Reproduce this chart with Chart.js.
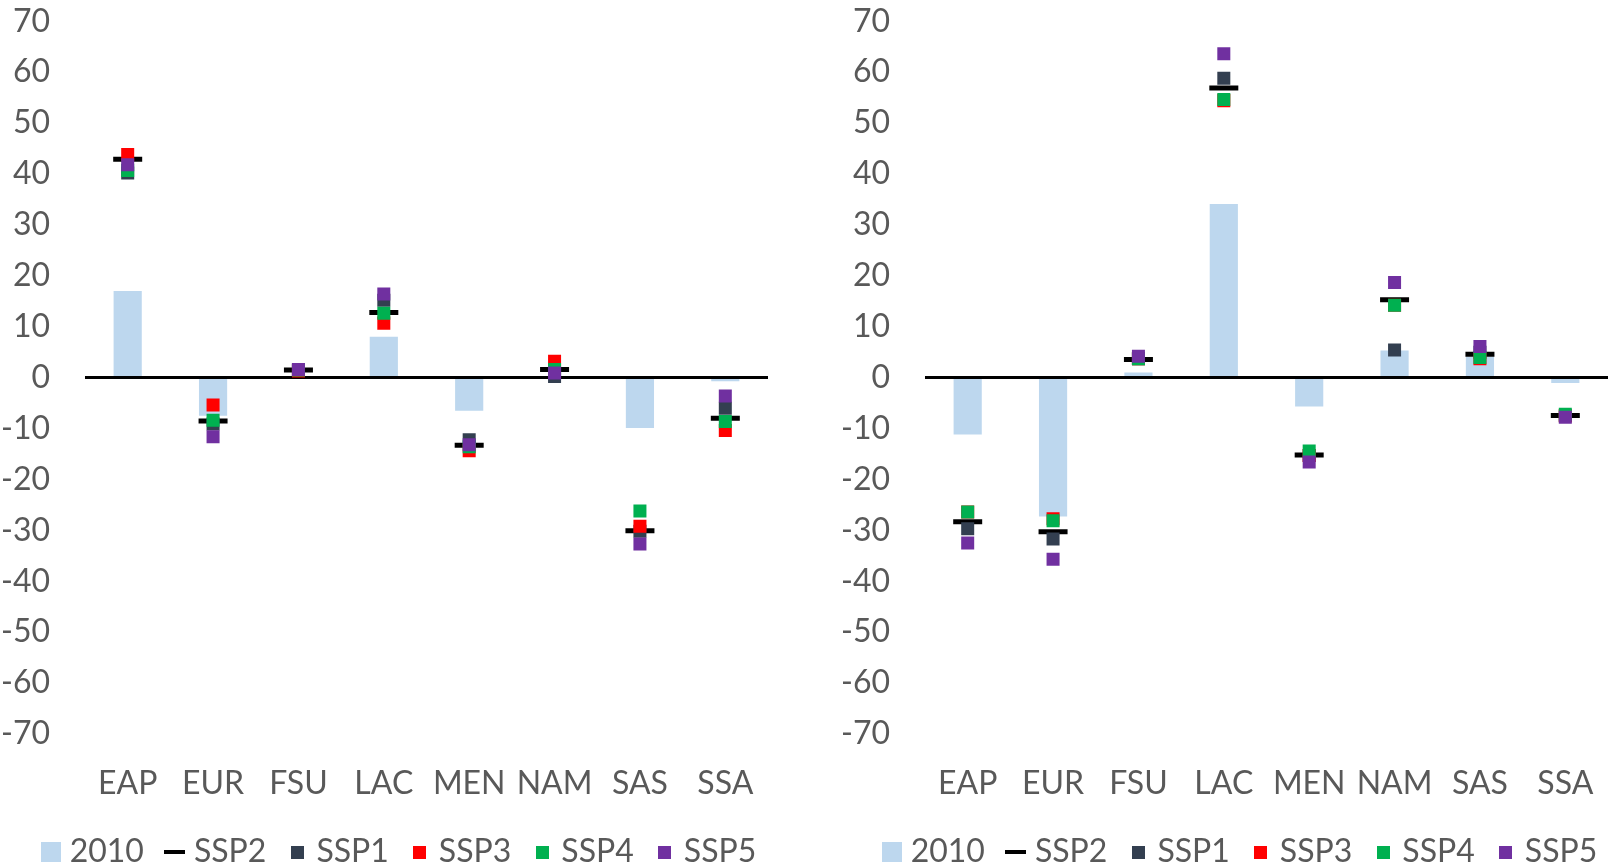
<!DOCTYPE html>
<html>
<head>
<meta charset="utf-8">
<script src="https://cdn.jsdelivr.net/npm/chart.js@4.4.1/dist/chart.umd.min.js"></script>
<style>
  html, body { margin: 0; padding: 0; background: #fff; overflow: hidden; }
  .box { position: absolute; top: -33px; width: 800px; height: 911px; }
  #left { left: 0; }
  #right { left: 838px; }
</style>
</head>
<body>
<div class="box" id="left"><canvas id="c1" width="800" height="911"></canvas></div>
<div class="box" id="right"><canvas id="c2" width="800" height="911"></canvas></div>
<script>
const regions = ["EAP", "EUR", "FSU", "LAC", "MEN", "NAM", "SAS", "SSA"];
const seriesNames = ["2010", "SSP2", "SSP1", "SSP3", "SSP4", "SSP5"];
const yTicks = { min: -70, max: 70, step: 10 };

// left panel
const left2010 = [17, -7.5, 0, 8, -6.5, 0, -9.9, -0.7];
const leftSSP2 = [42.9, -8.5, 1.5, 12.8, -13.3, 1.6, -30.1, -8.0];
const leftSSP1 = [40.2, -9.1, 1.5, 15.2, -12.2, 0.2, -30.2, -6.0];
const leftSSP3 = [43.8, -5.4, 1.3, 10.7, -14.35, 3.2, -29.2, -10.4];
const leftSSP4 = [40.7, -8.4, 1.5, 12.65, -13.6, 1.6, -26.2, -8.6];
const leftSSP5 = [41.8, -11.6, 1.6, 16.4, -13.2, 0.9, -32.7, -3.6];

// right panel
const right2010 = [-11.2, -27.3, 1.0, 34.1, -5.7, 5.3, 4.1, -1.05];
const rightSSP2 = [-28.3, -30.3, 3.55, 56.9, -15.2, 15.3, 4.6, -7.45];
const rightSSP1 = [-29.7, -31.7, 3.7, 58.8, -15.3, 5.4, 5.0, -7.5];
const rightSSP3 = [-26.4, -27.7, 3.7, 54.4, -15.3, 14.2, 3.7, -7.5];
const rightSSP4 = [-26.4, -28.1, 3.7, 54.6, -14.4, 14.2, 3.95, -7.2];
const rightSSP5 = [-32.5, -35.7, 4.2, 63.6, -16.6, 18.7, 6.1, -7.8];

const colors = ["#BDD7EE", "#000000", "#333F50", "#FF0000", "#00B050", "#7030A0"];

Chart.defaults.font.family = "Lato, 'Open Sans', sans-serif";
Chart.defaults.font.size = 32;
Chart.defaults.color = "#595959";

function swatch(w, h, color) {
  const c = document.createElement("canvas");
  c.width = w; c.height = h;
  const g = c.getContext("2d");
  g.fillStyle = color;
  g.fillRect(0, 0, w, h);
  return c;
}
const legendMarks = [
  swatch(20, 20, colors[0]),
  swatch(21, 4, colors[1]),
  swatch(13, 13, colors[2]),
  swatch(13, 13, colors[3]),
  swatch(13, 13, colors[4]),
  swatch(13, 13, colors[5])
];

function dots(i, data) {
  return {
    type: "line",
    label: seriesNames[i],
    data: data,
    showLine: false,
    pointStyle: "rect",
    pointRadius: 9.2,
    pointHoverRadius: 9.2,
    pointBackgroundColor: colors[i],
    pointBorderWidth: 0,
    backgroundColor: colors[i],
    borderColor: colors[i],
    order: 6 - i
  };
}

const shiftLegend = {
  id: "shiftLegend",
  afterLayout(chart, args, opts) {
    chart.legend.left += opts.dx;
    chart.legend.right += opts.dx;
  }
};

function makeChart(id, s2010, ssp2, ssp1, ssp3, ssp4, ssp5, axisW, padR, dx) {
  return new Chart(document.getElementById(id), {
    type: "bar",
    data: {
      labels: regions,
      datasets: [
        {
          label: seriesNames[0],
          data: s2010,
          backgroundColor: colors[0],
          barPercentage: 0.33,
          categoryPercentage: 1,
          order: 6
        },
        {
          type: "line",
          label: seriesNames[1],
          data: ssp2,
          showLine: false,
          pointStyle: "line",
          pointRadius: 14.5,
          pointHoverRadius: 14.5,
          pointBorderWidth: 5,
          pointBorderColor: colors[1],
          borderColor: colors[1],
          backgroundColor: colors[1],
          order: 5
        },
        dots(2, ssp1),
        dots(3, ssp3),
        dots(4, ssp4),
        dots(5, ssp5)
      ]
    },
    options: {
      responsive: false,
      animation: false,
      layout: { padding: { top: 20, right: padR, left: 0, bottom: 0 } },
      scales: {
        x: {
          grid: { display: false, drawTicks: false },
          border: { display: false },
          ticks: { padding: 30 },
          afterFit: s => { s.height = 74; }
        },
        y: {
          min: yTicks.min,
          max: yTicks.max,
          grid: {
            drawTicks: false,
            lineWidth: 3,
            color: ctx => (ctx.tick && ctx.tick.value === 0 ? "#000000" : "rgba(0,0,0,0)")
          },
          border: { display: false },
          ticks: { stepSize: yTicks.step, padding: 35 },
          afterFit: s => { s.width = axisW; }
        }
      },
      plugins: {
        tooltip: { enabled: false },
        shiftLegend: { dx: dx },
        legend: {
          position: "bottom",
          labels: {
            usePointStyle: true,
            boxWidth: 6,
            boxHeight: 6,
            padding: 28,
            sort: (a, b) => a.datasetIndex - b.datasetIndex,
            generateLabels: chart =>
              Chart.defaults.plugins.legend.labels.generateLabels(chart).map(item => {
                item.pointStyle = legendMarks[item.datasetIndex];
                return item;
              })
          }
        }
      }
    },
    plugins: [shiftLegend]
  });
}

makeChart("c1", left2010, leftSSP2, leftSSP1, leftSSP3, leftSSP4, leftSSP5, 85, 32, 18);
makeChart("c2", right2010, rightSSP2, rightSSP1, rightSSP3, rightSSP4, rightSSP5, 87, 30, 20);
</script>
</body>
</html>
